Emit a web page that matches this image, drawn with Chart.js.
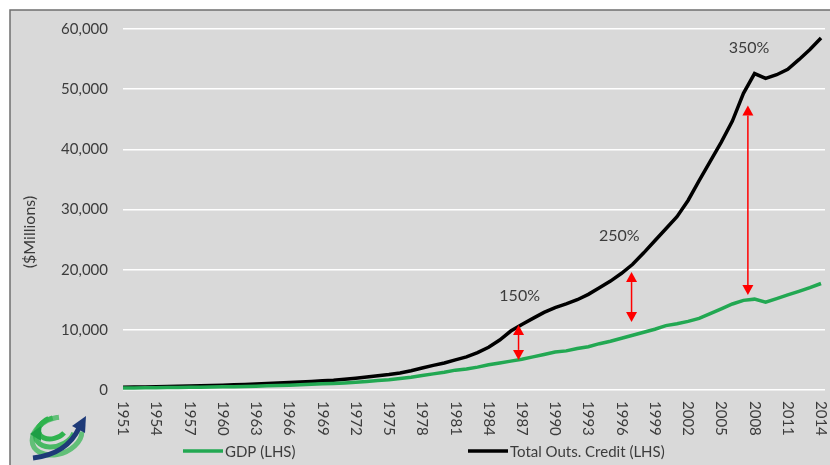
<!DOCTYPE html>
<html>
<head>
<meta charset="utf-8">
<script src="https://cdn.jsdelivr.net/npm/chart.js@4"></script>
<style>
  html, body { margin: 0; padding: 0; background: #ffffff; }
  #wrap { width: 830px; height: 465px; position: relative; }
</style>
</head>
<body>
<div id="wrap"><canvas id="creditChart" width="830" height="465"></canvas></div>
<script>
// data, yearly
const years = [];
for (let y = 1951; y <= 2014; y++) years.push(y);

const creditValues = [
  450, 480, 510, 540, 580, 620, 660, 700, 760, 810,
  860, 920, 990, 1070, 1150, 1230, 1310, 1420, 1530, 1620,
  1770, 1960, 2170, 2370, 2560, 2830, 3200, 3650, 4100, 4500,
  5000, 5500, 6200, 7100, 8300, 9800, 10900, 11900, 12900, 13700,
  14300, 15000, 15900, 17000, 18100, 19400, 20900, 22800, 24800, 26800,
  28800, 31500, 34800, 38000, 41200, 44700, 49300, 52600, 51800, 52400,
  53300, 54900, 56600, 58500
];
const gdpValues = [
  330, 350, 370, 380, 410, 430, 460, 470, 510, 530,
  560, 600, 640, 690, 740, 810, 860, 940, 1020, 1080,
  1170, 1280, 1430, 1560, 1700, 1900, 2120, 2400, 2680, 2950,
  3300, 3500, 3800, 4200, 4500, 4800, 5100, 5500, 5900, 6300,
  6500, 6900, 7200, 7700, 8100, 8600, 9100, 9600, 10100, 10700,
  11000, 11400, 11900, 12700, 13500, 14300, 14900, 15100, 14600, 15200,
  15800, 16400, 17000, 17700
];
const tickYears = [];
for (let y = 1951; y <= 2014; y += 3) tickYears.push(y);
const yTicks = [0, 10000, 20000, 30000, 40000, 50000, 60000];

// red double arrows and the ratio labels
const arrowYears = [1986.7, 1996.9, 2007.4];
const arrowTop = [10800, 19600, 47300];
const arrowBottom = [5000, 11300, 15800];
const ratioText = ['150%', '250%', '350%'];
const ratioYears = [1986.8, 1995.8, 2007.5];
const ratioValues = [15600, 25700, 56800];

const seriesNames = ['GDP (LHS)', 'Total Outs. Credit (LHS)'];
const green = '#22a852';
const textColor = '#3c3c3c';
const FONT = 'Lato, "Open Sans", sans-serif';

function pts(vals) {
  return vals.map((v, i) => ({ x: years[i], y: v }));
}

const decor = {
  id: 'decor',
  beforeDraw(chart) {
    const c = chart.ctx;
    c.save();
    c.fillStyle = '#ffffff';
    c.fillRect(0, 0, chart.width, chart.height);
    c.fillStyle = '#d9d9d9';
    c.fillRect(10, 10, chart.width - 10, chart.height - 10);
    c.strokeStyle = '#6f6f6f';
    c.lineWidth = 1.5;
    c.beginPath();
    c.moveTo(10, chart.height);
    c.lineTo(10, 10);
    c.lineTo(chart.width, 10);
    c.stroke();
    c.restore();
  },
  afterDraw(chart) {
    const c = chart.ctx;
    const xs = chart.scales.x, ys = chart.scales.y;
    c.save();

    // x tick labels, rotated to read downwards
    c.fillStyle = textColor;
    c.font = '15px ' + FONT;
    c.textAlign = 'left';
    c.textBaseline = 'middle';
    tickYears.forEach(t => {
      c.save();
      c.translate(xs.getPixelForValue(t), ys.bottom + 11);
      c.rotate(Math.PI / 2);
      c.fillText(String(t), 0, 0);
      c.restore();
    });

    // y axis title
    c.save();
    c.font = '16px ' + FONT;
    c.textAlign = 'center';
    c.translate(30, 232);
    c.rotate(-Math.PI / 2);
    c.fillText('($Millions)', 0, 0);
    c.restore();

    // arrows
    c.strokeStyle = '#ff0000';
    c.fillStyle = '#ff0000';
    c.lineWidth = 1.5;
    arrowYears.forEach((yr, i) => {
      const x = xs.getPixelForValue(yr);
      const y1 = ys.getPixelForValue(arrowTop[i]);
      const y2 = ys.getPixelForValue(arrowBottom[i]);
      const hw = 5.5, hh = 10;
      c.beginPath();
      c.moveTo(x, y1 + hh);
      c.lineTo(x, y2 - hh);
      c.stroke();
      c.beginPath();
      c.moveTo(x, y1); c.lineTo(x - hw, y1 + hh); c.lineTo(x + hw, y1 + hh);
      c.closePath(); c.fill();
      c.beginPath();
      c.moveTo(x, y2); c.lineTo(x - hw, y2 - hh); c.lineTo(x + hw, y2 - hh);
      c.closePath(); c.fill();
    });

    // ratio labels
    c.fillStyle = textColor;
    c.font = '16px ' + FONT;
    c.textAlign = 'center';
    c.textBaseline = 'middle';
    ratioText.forEach((t, i) => {
      c.fillText(t, xs.getPixelForValue(ratioYears[i]), ys.getPixelForValue(ratioValues[i]));
    });

    // legend
    const ly = 451;
    c.lineWidth = 3.5;
    c.strokeStyle = green;
    c.beginPath(); c.moveTo(183, ly); c.lineTo(223, ly); c.stroke();
    c.strokeStyle = '#000000';
    c.beginPath(); c.moveTo(468, ly); c.lineTo(508, ly); c.stroke();
    c.fillStyle = textColor;
    c.font = '15px ' + FONT;
    c.textAlign = 'left';
    c.fillText(seriesNames[0], 225, ly + 1);
    c.fillText(seriesNames[1], 510, ly + 1);

    // logo, rough sketch of the globe with arrows
    const cx = 55, cy = 432, r = 27;
    c.lineCap = 'butt';
    const bands = [[-2.2, -1.0, 0.55], [-2.6, -0.8, 0.75], [-2.9, -0.6, 0.95]];
    c.strokeStyle = '#2fb34f';
    bands.forEach((b, i) => {
      c.lineWidth = 5;
      c.globalAlpha = 1 - i * 0.15;
      c.beginPath();
      c.ellipse(cx - 2 + i * 2, cy - 4 + i * 4, r * b[2], r * b[2] * 0.7, -0.35, b[0] + Math.PI, b[1] + Math.PI + 2.5, false);
      c.stroke();
    });
    c.globalAlpha = 1;
    c.fillStyle = '#1e9e45';
    c.beginPath();
    c.moveTo(cx - 25, cy + 2);
    c.lineTo(cx - 14, cy - 6);
    c.lineTo(cx - 14, cy + 9);
    c.closePath();
    c.fill();
    c.strokeStyle = '#1e3a78';
    c.lineWidth = 5;
    c.beginPath();
    c.moveTo(cx - 22, cy + 26);
    c.quadraticCurveTo(cx + 12, cy + 22, cx + 24, cy - 4);
    c.stroke();
    c.fillStyle = '#1e3a78';
    c.beginPath();
    c.moveTo(cx + 31, cy - 16);
    c.lineTo(cx + 30, cy + 1);
    c.lineTo(cx + 17, cy - 6);
    c.closePath();
    c.fill();

    c.restore();
  }
};

new Chart(document.getElementById('creditChart').getContext('2d'), {
  type: 'line',
  data: {
    datasets: [
      {
        label: seriesNames[0],
        data: pts(gdpValues),
        borderColor: green,
        borderWidth: 3.5,
        pointRadius: 0,
        tension: 0,
        fill: false
      },
      {
        label: seriesNames[1],
        data: pts(creditValues),
        borderColor: '#000000',
        borderWidth: 3.5,
        pointRadius: 0,
        tension: 0,
        fill: false
      }
    ]
  },
  options: {
    responsive: false,
    animation: false,
    devicePixelRatio: 1,
    layout: { padding: { left: 0, right: 5, top: 29, bottom: 0 } },
    plugins: {
      legend: { display: false },
      tooltip: { enabled: false }
    },
    scales: {
      x: {
        type: 'linear',
        min: 1951,
        max: 2014.36,
        grid: { display: false },
        border: { display: false },
        ticks: { display: false },
        afterFit(scale) { scale.height = 75; }
      },
      y: {
        min: 0,
        max: 60000,
        afterBuildTicks(scale) { scale.ticks = yTicks.map(v => ({ value: v })); },
        grid: { color: '#ffffff', lineWidth: 1.5, drawTicks: false },
        border: { display: false },
        ticks: {
          color: textColor,
          font: { family: FONT, size: 15 },
          padding: 15,
          callback: v => v.toLocaleString('en-US')
        },
        afterFit(scale) { scale.width = 123; }
      }
    }
  },
  plugins: [decor]
});
</script>
</body>
</html>
